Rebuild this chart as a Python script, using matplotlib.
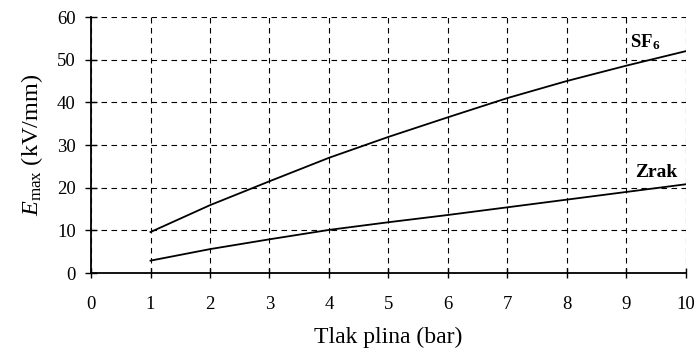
import matplotlib
matplotlib.use('Agg')
import matplotlib.pyplot as plt

# tlak plina (bar)
tlak = [1, 2, 3, 4, 5, 6, 7, 8, 9, 10]
# E_max (kV/mm)
e_sf6 = [9.6, 15.9, 21.5, 27.0, 31.9, 36.5, 41.0, 45.0, 48.6, 52.0]
e_zrak = [2.9, 5.6, 7.9, 10.1, 11.9, 13.6, 15.4, 17.2, 19.0, 20.8]

plt.rcParams['font.family'] = ['Liberation Serif', 'DejaVu Serif']
plt.rcParams['mathtext.fontset'] = 'custom'
plt.rcParams['mathtext.it'] = 'Liberation Serif:italic'
plt.rcParams['mathtext.rm'] = 'Liberation Serif'
plt.rcParams['mathtext.bf'] = 'Liberation Serif:bold'

fig = plt.figure(figsize=(6.97, 3.52), dpi=100)
ax = fig.add_axes([0.1306, 0.2244, 0.8534, 0.7273])

ax.plot(tlak, e_sf6, color='black', linewidth=1.3, zorder=3)
ax.plot(tlak, e_zrak, color='black', linewidth=1.3, zorder=3)

ax.text(9.06, 54.0, r'SF$_\mathbf{6}$', fontsize=13.5, weight='bold', va='center', ha='left')
ax.text(9.14, 23.6, 'Zrak', fontsize=14, weight='bold', va='center', ha='left')

ax.set_xlim(0, 10)
ax.set_ylim(0, 60)
ax.set_xticks(range(0, 11))
ax.set_yticks(range(0, 61, 10))
ax.grid(True, color='black', linestyle=(0, (5, 4)), linewidth=0.8)
ax.set_axisbelow(True)

for s in ['top', 'right']:
    ax.spines[s].set_visible(False)
for s in ['left', 'bottom']:
    ax.spines[s].set_linewidth(1.3)

ax.tick_params(axis='x', direction='inout', length=7, width=1, pad=13, labelsize=13.5)
ax.tick_params(axis='y', direction='inout', length=8, width=1, pad=7, labelsize=13.5)

ax.set_xlabel('Tlak plina (bar)', fontsize=17, labelpad=10)
ax.set_ylabel(r'$E_{\mathrm{max}}$ (kV/mm)', fontsize=17.5, labelpad=9)

fig.savefig('out.png', dpi=100, facecolor='white')
